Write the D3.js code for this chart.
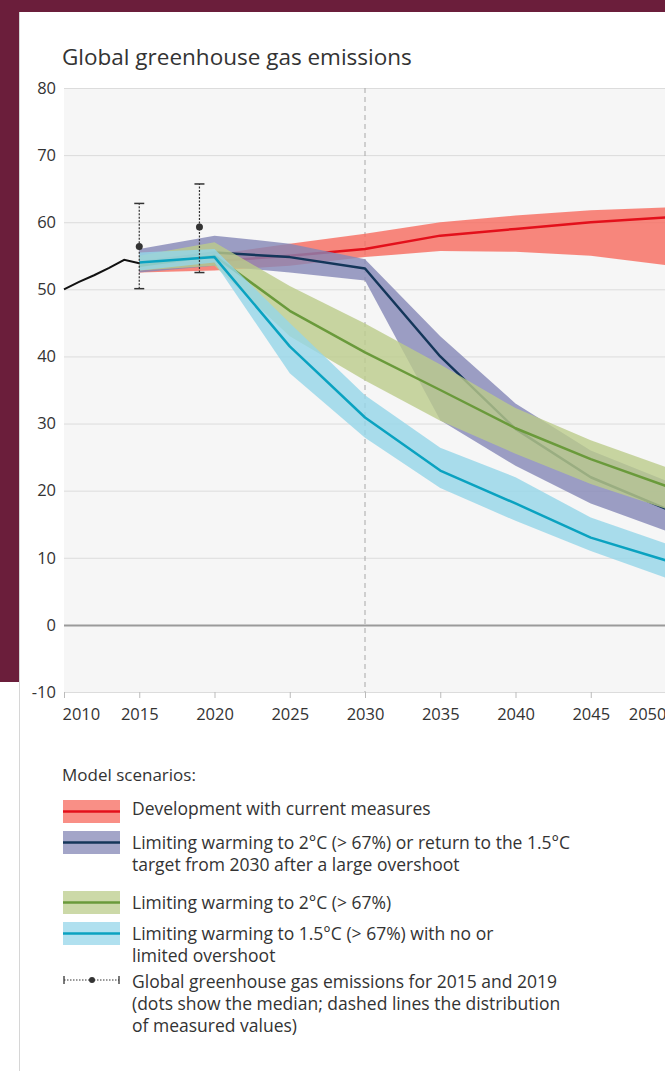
<!DOCTYPE html>
<html>
<head>
<meta charset="utf-8">
<script src="https://cdn.jsdelivr.net/npm/d3@7"></script>
<style>
  body { margin: 0; background: #fff; }
  svg text { font-family: "Open Sans", "Noto Sans", sans-serif; fill: #333; }
</style>
</head>
<body>
<div id="chart"></div>
<script>
// data
const years = [2015, 2020, 2025, 2030, 2035, 2040, 2045, 2050];

const currentMid  = [53.5, 54.2, 55.0, 56.0, 58.0, 59.0, 60.0, 60.7];
const currentLow  = [52.5, 52.8, 53.5, 54.8, 55.7, 55.6, 55.0, 53.6];
const currentHigh = [54.5, 55.2, 56.8, 58.3, 60.0, 61.0, 61.8, 62.2];

const overshootMid  = [54.0, 55.5, 54.8, 53.1, 40.0, 29.2, 22.0, 17.3];
const overshootLow  = [52.5, 53.5, 52.5, 51.3, 30.5, 23.7, 18.1, 14.0];
const overshootHigh = [56.0, 58.0, 56.8, 54.5, 43.0, 33.0, 26.0, 21.5];

const twoDegMid  = [53.5, 55.0, 46.8, 40.6, 35.0, 29.3, 24.7, 20.7];
const twoDegLow  = [52.8, 53.5, 43.0, 36.4, 30.4, 25.5, 21.0, 17.3];
const twoDegHigh = [55.0, 57.0, 50.5, 44.9, 38.8, 32.3, 27.5, 23.5];

const onePointFiveMid  = [54.0, 54.8, 41.5, 30.9, 23.0, 18.1, 13.0, 9.6];
const onePointFiveLow  = [52.8, 54.0, 37.5, 27.9, 20.4, 15.5, 11.0, 7.0];
const onePointFiveHigh = [55.5, 56.0, 45.0, 34.2, 26.4, 22.0, 16.0, 12.1];

const histYears  = [2010, 2011, 2012, 2013, 2014, 2015];
const histValues = [50.0, 51.1, 52.1, 53.2, 54.4, 53.9];

const obsYears  = [2015, 2019];
const obsLow    = [50.1, 52.5];
const obsMedian = [56.4, 59.3];
const obsHigh   = [62.8, 65.7];

const yTicks = [-10, 0, 10, 20, 30, 40, 50, 60, 70, 80];
const xTicks = [2010, 2015, 2020, 2025, 2030, 2035, 2040, 2045, 2050];

const legendLabels = [
  ["Development with current measures"],
  ["Limiting warming to 2\u00b0C (> 67%) or return to the 1.5\u00b0C", "target from 2030 after a large overshoot"],
  ["Limiting warming to 2\u00b0C (> 67%)"],
  ["Limiting warming to 1.5\u00b0C (> 67%) with no or", "limited overshoot"],
  ["Global greenhouse gas emissions for 2015 and 2019", "(dots show the median; dashed lines the distribution", "of measured values)"]
];

// scenarios table built from the arrays above
const scenarios = [
  {mid: currentMid, low: currentLow, high: currentHigh, band: "#f76a5e", line: "#e3101b"},
  {mid: overshootMid, low: overshootLow, high: overshootHigh, band: "#8487b6", line: "#14365a"},
  {mid: twoDegMid, low: twoDegLow, high: twoDegHigh, band: "#bbcc8b", line: "#6a9a3b"},
  {mid: onePointFiveMid, low: onePointFiveLow, high: onePointFiveHigh, band: "#95d6e9", line: "#0aa2c0"}
];

const W = 665, H = 1071;
const svg = d3.select("#chart").append("svg")
    .attr("width", W)
    .attr("height", H);

// maroon frame and white panel
svg.append("rect").attr("width", W).attr("height", H).attr("fill", "#fff");
svg.append("rect").attr("x", 0).attr("y", 0).attr("width", W).attr("height", 12).attr("fill", "#6b1e3b");
svg.append("rect").attr("x", 0).attr("y", 0).attr("width", 19).attr("height", 682).attr("fill", "#6b1e3b");
svg.append("line").attr("x1", 19.5).attr("x2", 19.5).attr("y1", 12).attr("y2", H)
    .attr("stroke", "#d6d6d6").attr("stroke-width", 1);

const x = d3.scaleLinear().domain([2010, 2050]).range([64, 666]);
const y = d3.scaleLinear().domain([-10, 80]).range([692, 88]);

// plot background
svg.append("rect")
    .attr("x", x(2010)).attr("y", y(80))
    .attr("width", x(2050) - x(2010)).attr("height", y(-10) - y(80))
    .attr("fill", "#f6f6f6");

// title
svg.append("text")
    .attr("x", 62).attr("y", 65)
    .style("font-size", "22.5px")
    .text("Global greenhouse gas emissions");

// y axis with gridlines
const yAxis = svg.append("g")
    .attr("transform", `translate(${x(2010)},0)`)
    .call(d3.axisLeft(y).tickValues(yTicks).tickSize(-(x(2050) - x(2010))).tickPadding(8).tickFormat(d => String(d)));
yAxis.select(".domain").remove();
yAxis.selectAll(".tick line")
    .attr("stroke", d => d === 0 ? "#9a9a9a" : "#dcdcdc")
    .attr("stroke-width", d => d === 0 ? 2 : 1);
yAxis.selectAll(".tick text")
    .style("font-size", "16.5px")
    .attr("fill", "#333");

// x axis
const xAxis = svg.append("g")
    .attr("transform", `translate(0,${y(-10)})`)
    .call(d3.axisBottom(x).tickValues(xTicks).tickSize(6).tickPadding(10).tickFormat(d3.format("d")));
xAxis.select(".domain").remove();
xAxis.selectAll(".tick line").attr("stroke", "#bbb");
xAxis.selectAll(".tick text")
    .style("font-size", "16.5px")
    .attr("fill", "#333")
    .attr("text-anchor", d => d === 2010 ? "start" : d === 2050 ? "end" : "middle")
    .attr("x", d => d === 2010 ? -2 : 0);

// 2030 marker
svg.append("line")
    .attr("x1", x(2030)).attr("x2", x(2030))
    .attr("y1", y(80)).attr("y2", y(-10))
    .attr("stroke", "#a8a8a8").attr("stroke-width", 1)
    .attr("stroke-dasharray", "5,4");

// bands and median lines
const area = d3.area()
    .x(d => x(d.year))
    .y0(d => y(d.low))
    .y1(d => y(d.high));
const line = d3.line()
    .x(d => x(d.year))
    .y(d => y(d.value));

scenarios.forEach(s => {
  const rows = years.map((yr, i) => ({year: yr, low: s.low[i], high: s.high[i], value: s.mid[i]}));
  svg.append("path")
      .datum(rows)
      .attr("fill", s.band)
      .attr("fill-opacity", 0.8)
      .attr("d", area);
  svg.append("path")
      .datum(rows)
      .attr("fill", "none")
      .attr("stroke", s.line)
      .attr("stroke-width", 2.5)
      .attr("stroke-linejoin", "round")
      .attr("d", line);
});

// historical emissions
svg.append("path")
    .datum(histYears.map((yr, i) => ({year: yr, value: histValues[i]})))
    .attr("fill", "none")
    .attr("stroke", "#111")
    .attr("stroke-width", 2)
    .attr("d", d3.line().x(d => x(d.year)).y(d => y(d.value)));

// observed ranges
const obs = svg.append("g").selectAll("g")
  .data(obsYears.map((yr, i) => ({year: yr, low: obsLow[i], med: obsMedian[i], high: obsHigh[i]})))
  .join("g");
obs.append("line")
    .attr("x1", d => x(d.year)).attr("x2", d => x(d.year))
    .attr("y1", d => y(d.low)).attr("y2", d => y(d.high))
    .attr("stroke", "#333").attr("stroke-width", 1.2)
    .attr("stroke-dasharray", "2,1.5");
obs.selectAll(".cap")
  .data(d => [{year: d.year, v: d.low}, {year: d.year, v: d.high}])
  .join("line")
    .attr("class", "cap")
    .attr("x1", d => x(d.year) - 5).attr("x2", d => x(d.year) + 5)
    .attr("y1", d => y(d.v)).attr("y2", d => y(d.v))
    .attr("stroke", "#333").attr("stroke-width", 1.5);
obs.append("circle")
    .attr("cx", d => x(d.year)).attr("cy", d => y(d.med))
    .attr("r", 3.5).attr("fill", "#333");

// legend
svg.append("text")
    .attr("x", 62).attr("y", 781)
    .style("font-size", "17px")
    .text("Model scenarios:");

const legendTops = [800, 831, 891, 922];
scenarios.forEach((s, i) => {
  const g = svg.append("g").attr("transform", `translate(63,${legendTops[i]})`);
  g.append("rect").attr("width", 57).attr("height", 23)
      .attr("fill", s.band).attr("fill-opacity", 0.75);
  g.append("line").attr("x1", 0).attr("x2", 57).attr("y1", 11.5).attr("y2", 11.5)
      .attr("stroke", s.line).attr("stroke-width", 2.5);
});

const errG = svg.append("g").attr("transform", "translate(63,980)");
errG.append("line").attr("x1", 1).attr("x2", 56).attr("y1", 0).attr("y2", 0)
    .attr("stroke", "#333").attr("stroke-width", 1).attr("stroke-dasharray", "1.5,1.5");
errG.append("line").attr("x1", 1).attr("x2", 1).attr("y1", -4).attr("y2", 4).attr("stroke", "#333").attr("stroke-width", 1.3);
errG.append("line").attr("x1", 56).attr("x2", 56).attr("y1", -4).attr("y2", 4).attr("stroke", "#333").attr("stroke-width", 1.3);
errG.append("circle").attr("cx", 29).attr("cy", 0).attr("r", 3).attr("fill", "#333");

const legendTextY = [815, 849, 909, 940, 988];
legendLabels.forEach((lines, i) => {
  const t = svg.append("text")
      .attr("x", 132).attr("y", legendTextY[i])
      .style("font-size", "17.5px");
  lines.forEach((l, j) => {
    t.append("tspan").attr("x", 132).attr("dy", j === 0 ? 0 : 22).text(l);
  });
});
</script>
</body>
</html>
